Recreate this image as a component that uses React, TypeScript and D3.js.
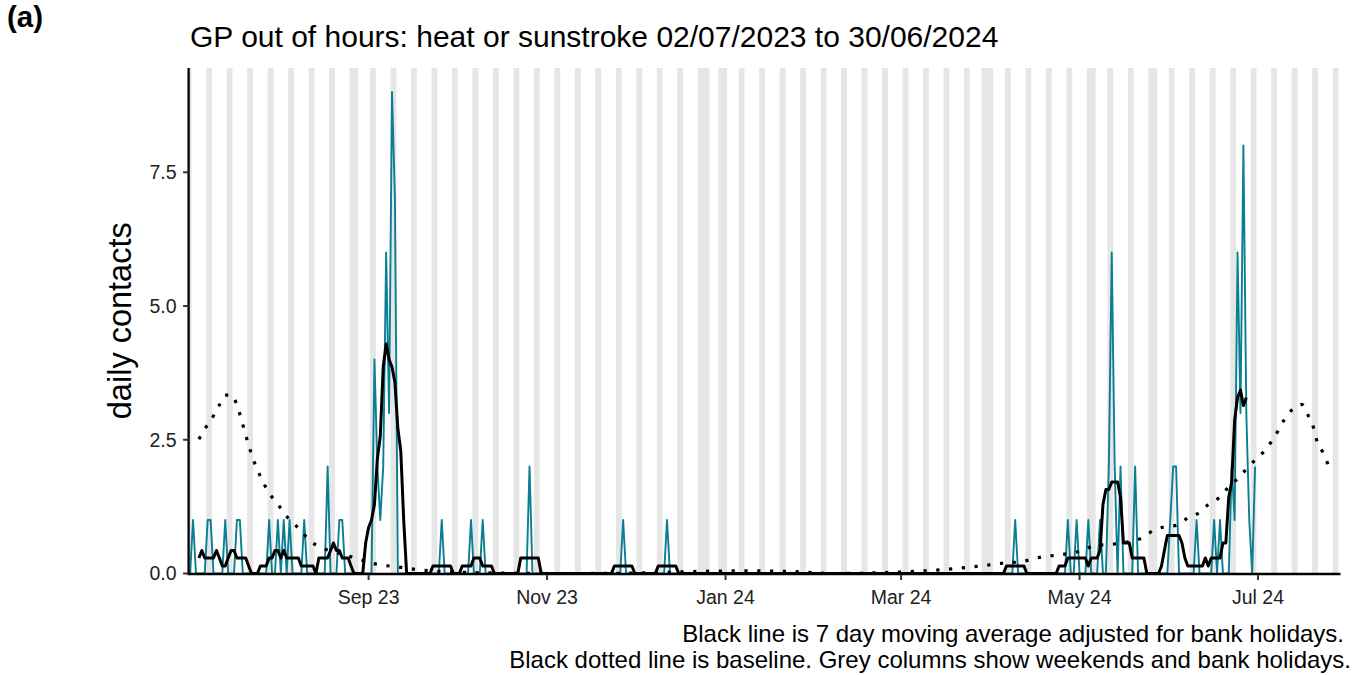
import React from "react";
import * as d3 from "d3";

const W = 1362;
const H = 675;
const FONT = '"Liberation Sans", Arial, Helvetica, sans-serif';

// ---- daily contacts (teal line); every day between start and end not listed is 0
const seriesStart = "2023-07-02";
const seriesEnd = "2024-06-30";
const contactDates = [
  "2023-07-03", "2023-07-08", "2023-07-09", "2023-07-14", "2023-07-18", "2023-07-19",
  "2023-07-29", "2023-08-01", "2023-08-03", "2023-08-05", "2023-08-10", "2023-08-18",
  "2023-08-22", "2023-08-23", "2023-09-03", "2023-09-04", "2023-09-05", "2023-09-06",
  "2023-09-07", "2023-09-08", "2023-09-09", "2023-09-10", "2023-09-26", "2023-10-06",
  "2023-10-10", "2023-10-26", "2023-11-27", "2023-12-12", "2024-04-09", "2024-04-27",
  "2024-04-30", "2024-05-04", "2024-05-08", "2024-05-11", "2024-05-12", "2024-05-13",
  "2024-05-15", "2024-05-20", "2024-06-01", "2024-06-02", "2024-06-03", "2024-06-10",
  "2024-06-16", "2024-06-18", "2024-06-22", "2024-06-23", "2024-06-24", "2024-06-25",
  "2024-06-26", "2024-06-27", "2024-06-28", "2024-06-30",
];
const contactValues = [
  1, 1, 1, 1, 1, 1,
  1, 1, 1, 1, 1, 2,
  1, 1, 4, 2, 1, 2,
  6, 3, 9, 7, 1, 1,
  1, 2, 1, 1, 1, 1,
  1, 1, 1, 2, 6, 2,
  2, 2, 1, 2, 2, 1,
  1, 1, 2, 1, 6, 3,
  8, 3, 1, 2,
];

// ---- 7 day moving average (black line); days not in a run are 0
const maStart = "2023-07-05";
const maEnd = "2024-06-27";
const maRunStarts = [
  "2023-07-05", "2023-07-26", "2023-08-15", "2023-08-31", "2023-09-23", "2023-10-03",
  "2023-10-23", "2023-11-24", "2023-12-09", "2024-04-06", "2024-04-24", "2024-05-29",
];
const maRunValues = [
  [0.29, 0.43, 0.29, 0.29, 0.29, 0.29, 0.43, 0.29, 0.14, 0.14, 0.29, 0.43, 0.43, 0.29, 0.29, 0.29, 0.29, 0.14],
  [0.14, 0.14, 0.14, 0.29, 0.29, 0.43, 0.43, 0.29, 0.43, 0.29, 0.29, 0.29, 0.29, 0.29, 0.14, 0.14, 0.14, 0.14, 0.14],
  [0.29, 0.29, 0.29, 0.29, 0.43, 0.57, 0.43, 0.43, 0.29, 0.29, 0.29, 0.14],
  [0.57, 0.86, 1.0, 1.29, 2.14, 2.57, 3.86, 4.29, 4.0, 3.86, 3.57, 2.71, 2.29, 1.0],
  [0.14, 0.14, 0.14, 0.14, 0.14, 0.14, 0.14],
  [0.14, 0.14, 0.14, 0.14, 0.29, 0.29, 0.29, 0.14, 0.14, 0.14, 0.14],
  [0.29, 0.29, 0.29, 0.29, 0.29, 0.29, 0.29],
  [0.14, 0.14, 0.14, 0.14, 0.14, 0.14, 0.14],
  [0.14, 0.14, 0.14, 0.14, 0.14, 0.14, 0.14],
  [0.14, 0.14, 0.14, 0.14, 0.14, 0.14, 0.14],
  [0.14, 0.14, 0.14, 0.29, 0.29, 0.29, 0.29, 0.29, 0.29, 0.29, 0.14, 0.29, 0.29, 0.29, 0.43,
   1.29, 1.57, 1.57, 1.71, 1.71, 1.71, 1.43, 0.57, 0.57, 0.57, 0.29, 0.29, 0.29, 0.29, 0.29],
  [0.14, 0.43, 0.71, 0.71, 0.71, 0.71, 0.71, 0.57, 0.29, 0.14, 0.14, 0.14, 0.14, 0.14, 0.14,
   0.29, 0.14, 0.29, 0.29, 0.29, 0.29, 0.57, 0.57, 1.43, 1.71, 2.86, 3.29, 3.43, 3.14, 3.29],
];

// ---- baseline (dotted line)
const baselineDates = [
  "2023-07-05", "2023-07-07", "2023-07-10", "2023-07-12", "2023-07-14", "2023-07-16",
  "2023-07-18", "2023-07-20", "2023-07-22", "2023-07-24", "2023-07-26", "2023-07-29",
  "2023-08-01", "2023-08-03", "2023-08-06", "2023-08-09", "2023-08-12", "2023-08-16",
  "2023-08-20", "2023-08-28", "2023-09-01", "2023-09-05", "2023-09-10", "2023-09-18",
  "2023-09-29", "2023-10-14", "2023-11-08", "2023-12-03", "2023-12-23", "2024-01-07",
  "2024-01-22", "2024-02-08", "2024-02-26", "2024-03-09", "2024-03-19", "2024-03-28",
  "2024-04-06", "2024-04-11", "2024-04-15", "2024-04-19", "2024-04-23", "2024-04-28",
  "2024-05-02", "2024-05-06", "2024-05-10", "2024-05-14", "2024-05-19", "2024-05-23",
  "2024-05-26", "2024-05-30", "2024-06-03", "2024-06-07", "2024-06-11", "2024-06-14",
  "2024-06-18", "2024-06-21", "2024-06-24", "2024-06-27", "2024-06-30", "2024-07-03",
  "2024-07-06", "2024-07-08", "2024-07-10", "2024-07-13", "2024-07-16", "2024-07-18",
  "2024-07-20", "2024-07-21", "2024-07-23", "2024-07-25",
];
const baselineValues = [
  2.51, 2.7, 2.95, 3.15, 3.33, 3.34,
  3.15, 2.78, 2.4, 2.07, 1.82, 1.5,
  1.3, 1.13, 0.96, 0.79, 0.61, 0.48,
  0.41, 0.28, 0.21, 0.16, 0.13, 0.07,
  0.03, 0.01, 0.0, 0.01, 0.04, 0.05,
  0.04, 0.0, 0.02, 0.05, 0.09, 0.14,
  0.2, 0.22, 0.27, 0.32, 0.34, 0.38,
  0.43, 0.52, 0.54, 0.56, 0.61, 0.68,
  0.8, 0.87, 0.9, 1.04, 1.14, 1.29,
  1.43, 1.62, 1.77, 1.95, 2.12, 2.28,
  2.5, 2.68, 2.88, 3.08, 3.16, 2.97,
  2.72, 2.5, 2.28, 2.03,
];

const bankHolidays = [
  "2023-08-28", "2023-12-25", "2023-12-26", "2024-01-01",
  "2024-03-29", "2024-04-01", "2024-05-06", "2024-05-27",
];

const xLimits = ["2023-07-01T11:30:00Z", "2024-07-29T04:30:00Z"];
const xTickDates = ["2023-09-01", "2023-11-01", "2024-01-01", "2024-03-01", "2024-05-01", "2024-07-01"];
const xTickLabels = ["Sep 23", "Nov 23", "Jan 24", "Mar 24", "May 24", "Jul 24"];
const yTicks = [0, 2.5, 5, 7.5];
const yTickLabels = ["0.0", "2.5", "5.0", "7.5"];
const yLimits = [0, 9.45];

const titleText = "GP out of hours: heat or sunstroke 02/07/2023 to 30/06/2024";
const panelTag = "(a)";
const yTitle = "daily contacts";
const captionLines = [
  "Black line is 7 day moving average adjusted for bank holidays.",
  "Black dotted line is baseline. Grey columns show weekends and bank holidays.",
];

const parse = (s: string) => new Date(s.length === 10 ? s + "T00:00:00Z" : s);
const fmt = d3.utcFormat("%Y-%m-%d");

export default function App() {
  const P = { left: 188.6, right: 1340.5, top: 68, bottom: 573.5 };
  const x = d3.scaleUtc().domain(xLimits.map(parse)).range([P.left, P.right]);
  const y = d3.scaleLinear().domain(yLimits).range([P.bottom, P.top]);

  const valueMap = new Map(contactDates.map((d, i) => [d, contactValues[i]]));
  const days = d3.utcDay.range(parse(seriesStart), d3.utcDay.offset(parse(seriesEnd), 1));
  const daily = days.map((d) => ({ date: d, value: valueMap.get(fmt(d)) ?? 0 }));

  const maMap = new Map<string, number>();
  maRunStarts.forEach((s, i) => {
    let d = parse(s);
    maRunValues[i].forEach((v) => {
      maMap.set(fmt(d), v);
      d = d3.utcDay.offset(d, 1);
    });
  });
  const maDays = d3.utcDay.range(parse(maStart), d3.utcDay.offset(parse(maEnd), 1));
  const ma = maDays.map((d) => ({ date: d, value: maMap.get(fmt(d)) ?? 0 }));

  const base = baselineDates.map((d, i) => ({ date: parse(d), value: baselineValues[i] }));

  // grey columns (weekends + bank holidays), merged into runs
  const hol = new Set(bankHolidays);
  const [d0, d1] = x.domain();
  const allDays = d3.utcDay.range(d3.utcDay.offset(d3.utcDay.floor(d0), -1), d3.utcDay.offset(d1, 2));
  const runs: [Date, Date][] = [];
  let cur: [Date, Date] | null = null;
  allDays.forEach((d) => {
    const grey = d.getUTCDay() === 0 || d.getUTCDay() === 6 || hol.has(fmt(d));
    if (grey) {
      if (cur) cur[1] = d;
      else cur = [d, d];
    } else if (cur) {
      runs.push(cur);
      cur = null;
    }
  });
  if (cur) runs.push(cur);
  const half = 12 * 3600 * 1000;

  const line = d3
    .line<{ date: Date; value: number }>()
    .x((d) => x(d.date))
    .y((d) => y(d.value));
  const smooth = d3
    .line<{ date: Date; value: number }>()
    .x((d) => x(d.date))
    .y((d) => y(d.value))
    .curve(d3.curveMonotoneX);

  return (
    <svg
      width={W}
      height={H}
      style={{ position: "absolute", left: 0, top: 0, background: "#fff" }}
      fontFamily={FONT}
    >
      <defs>
        <clipPath id="panel">
          <rect x={P.left} y={P.top} width={P.right - P.left} height={P.bottom - P.top} />
        </clipPath>
      </defs>
      <rect x={0} y={0} width={W} height={H} fill="#fff" />
      <g clipPath="url(#panel)">
        {runs.map(([a, b], i) => {
          const xa = x(new Date(+a - half));
          const xb = x(new Date(+b + half));
          return (
            <rect key={i} x={xa} y={P.top} width={xb - xa} height={P.bottom - P.top} fill="#e6e6e6" />
          );
        })}
      </g>
      <path d={line(daily) ?? ""} fill="none" stroke="#0a7e93" strokeWidth={1.9} strokeLinejoin="round" />
      <path d={line(ma) ?? ""} fill="none" stroke="#000" strokeWidth={3} strokeLinejoin="round" />
      <path
        d={smooth(base) ?? ""}
        fill="none"
        stroke="#000"
        strokeWidth={3.2}
        strokeDasharray="3.2 9.6"
      />

      {/* axes */}
      <line x1={P.left} x2={P.left} y1={P.top} y2={P.bottom + 1.1} stroke="#000" strokeWidth={2.3} />
      <line x1={P.left - 1.1} x2={P.right} y1={P.bottom + 0.5} y2={P.bottom + 0.5} stroke="#000" strokeWidth={2.3} />
      {yTicks.map((t, i) => (
        <g key={t}>
          <line x1={P.left - 5.5} x2={P.left} y1={y(t)} y2={y(t)} stroke="#333" strokeWidth={2} />
          <text x={P.left - 12} y={y(t)} dy="0.35em" textAnchor="end" fontSize={19.5} fill="#222">
            {yTickLabels[i]}
          </text>
        </g>
      ))}
      {xTickDates.map((t, i) => {
        const xx = x(parse(t));
        return (
          <g key={t}>
            <line x1={xx} x2={xx} y1={P.bottom + 1} y2={P.bottom + 6.5} stroke="#333" strokeWidth={2} />
            <text x={xx} y={604} textAnchor="middle" fontSize={19.5} fill="#222">
              {xTickLabels[i]}
            </text>
          </g>
        );
      })}

      <text
        transform={`translate(${131},${(P.top + P.bottom) / 2}) rotate(-90)`}
        textAnchor="middle"
        fontSize={32.5}
        fill="#000"
      >
        {yTitle}
      </text>
      <text x={190} y={47} fontSize={30} fill="#000">
        {titleText}
      </text>
      <text x={7} y={27} fontSize={29.5} fontWeight="bold" fill="#000">
        {panelTag}
      </text>
      <text x={1344} y={642} textAnchor="end" fontSize={24} fill="#000">
        {captionLines[0]}
      </text>
      <text x={1351} y={668} textAnchor="end" fontSize={24} fill="#000">
        {captionLines[1]}
      </text>
    </svg>
  );
}
